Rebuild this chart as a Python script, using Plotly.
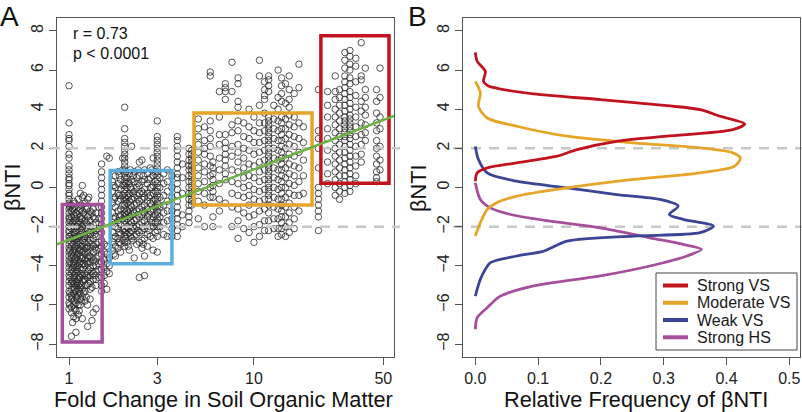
import plotly.graph_objects as go

# ---------------- Panel A data (fold change in SOM vs betaNTI) ----------------
# each column: one fold-change value with the betaNTI values observed there
hs_fold = [1.00, 1.03, 1.06, 1.09, 1.12, 1.15, 1.18, 1.22, 1.26, 1.30, 1.35, 1.40, 1.45, 1.50, 1.55, 1.60, 1.65,
           1.01, 1.045, 1.075, 1.105, 1.135, 1.165, 1.20, 1.24, 1.28, 1.33, 1.38]
hs_beta = [
    [5.2, 3.3, 2.7, 2.5, 2.4, 2.1, 1.7, 1.5, 1.1, 0.9, 0.7, 0.5, 0.4, 0.2, 0.1, -0.1, -0.3, -0.4, -0.6, -0.8, -0.9,
     -1.1, -1.3, -1.5, -1.6, -1.8, -2.0, -2.2, -2.3, -2.5, -2.7, -2.9, -3.1, -3.3, -3.5, -3.7, -3.9, -4.1, -4.3,
     -4.5, -4.8, -5.0, -5.3, -5.6, -5.9, -6.2],
    [-0.9, -1.2, -1.5, -1.9, -2.1, -2.4, -2.8, -3.0, -3.4, -3.6, -3.9, -4.2, -4.4, -4.7, -4.9, -5.2, -5.5, -5.7, -6.1, -6.4, -7.6],
    [-0.7, -1.0, -1.4, -1.7, -2.0, -2.3, -2.6, -2.9, -3.2, -3.5, -3.8, -4.0, -4.3, -4.6, -4.9, -5.1, -5.4, -5.8, -6.0, -6.6],
    [-1.3, -1.6, -1.8, -2.2, -2.5, -2.7, -3.0, -3.3, -3.6, -3.9, -4.1, -4.4, -4.8, -5.0, -5.3, -5.6, -5.9, -6.3, -6.7, -7.4],
    [-0.6, -1.0, -1.9, -2.3, -2.6, -2.9, -3.1, -3.4, -3.7, -4.0, -4.3, -4.5, -4.7, -5.0, -5.2, -5.5, -6.0, -6.5],
    [-0.3, -1.1, -1.5, -1.8, -2.1, -2.4, -2.8, -3.2, -3.5, -3.8, -4.1, -4.6, -4.9, -5.1, -5.4, -5.7, -6.0],
    [0.1, -0.5, -1.2, -1.6, -2.0, -2.3, -2.7, -3.0, -3.3, -3.6, -3.9, -4.2, -4.5, -4.8, -5.2, -5.6, -6.7],
    [-0.8, -1.4, -1.7, -2.1, -2.5, -2.8, -3.1, -3.4, -3.7, -4.0, -4.4, -4.7, -5.0, -5.3, -5.8],
    [-0.6, -1.0, -1.5, -1.9, -2.2, -2.6, -3.0, -3.3, -3.6, -3.9, -4.3, -4.6, -5.0, -6.0, -7.1],
    [-1.2, -1.7, -2.0, -2.4, -2.7, -3.1, -3.5, -3.8, -4.1, -4.5, -4.8, -5.2, -5.7],
    [-1.1, -1.5, -1.9, -2.3, -2.6, -3.0, -3.3, -3.7, -4.0, -4.4, -4.7, -6.4],
    [-1.3, -1.8, -2.2, -2.5, -2.9, -3.2, -3.6, -4.0, -4.3, -4.7, -5.0, -6.2],
    [-1.0, -1.6, -2.1, -2.8, -3.1, -3.5, -3.9, -4.2, -4.6],
    [1.2, 0.8, 0.5, 0.2, -0.1, -0.4, -0.7, -1.0, -1.3, -1.6, -1.9, -2.3, -2.7, -3.0, -3.4, -3.8, -4.2, -4.6, -5.0, -5.3],
    [-2.9, -3.3, -3.7, -4.1, -4.5, -4.9],
    [1.6, -3.0, -3.4, -3.9, -4.3, -5.2],
    [1.5, -3.6, -4.0, -4.4],
    [-1.0, -1.7, -2.5, -3.2, -3.8, -4.6, -5.4, -6.0],
    [-1.1, -1.8, -2.6, -3.3, -4.1, -4.8, -5.6, -6.9],
    [-0.8, -1.5, -2.4, -3.1, -3.7, -4.5, -5.2, -6.2],
    [-1.4, -2.0, -2.8, -3.5, -4.2, -4.9, -5.7],
    [-1.2, -1.7, -2.5, -3.2, -3.9, -4.6, -5.3, -6.3],
    [-0.9, -1.6, -2.2, -3.0, -3.6, -4.4, -5.0, -5.8],
    [-0.4, -1.3, -1.9, -2.6, -3.2, -3.9, -4.7, -5.4],
    [-1.1, -1.8, -2.4, -3.1, -3.8, -4.5, -5.6],
    [-0.5, -1.4, -2.1, -2.8, -3.5, -4.2, -4.9],
    [-1.3, -2.2, -2.9, -3.6, -4.3, -5.1, -6.8],
    [-1.6, -2.4, -3.1, -3.8, -4.5],
]

weak_fold = [1.72, 1.78, 1.84, 1.90, 1.95, 2.00, 2.06, 2.12, 2.18, 2.25, 2.32, 2.40, 2.48, 2.56, 2.65, 2.75,
             2.85, 2.93, 3.00, 3.10, 3.25, 3.40, 3.60, 3.85, 4.10, 4.45,
             1.75, 1.87, 2.03, 2.09, 2.15, 2.22, 2.36, 2.52, 2.70, 2.80]
weak_beta = [
    [0.3, -0.2, -0.8, -1.3, -1.8, -2.3, -2.8, -3.2],
    [0.6, 0.0, -0.5, -1.0, -1.5, -2.0, -2.5, -3.0, -3.5],
    [0.8, 0.2, -0.3, -0.7, -1.2, -1.7, -2.1, -2.6, -3.1],
    [0.4, -0.1, -0.6, -1.1, -1.4, -1.9, -2.4, -2.9, -3.3],
    [1.5, 0.9, 0.1, -0.4, -0.9, -1.6, -2.2, -2.7],
    [4.1, 3.0, 2.5, 2.3, 2.1, 1.9, 1.7, 1.5, 1.3, 1.1, 0.9, 0.7, 0.5, 0.3, 0.1, -0.1, -0.3, -0.5, -0.7, -0.9,
     -1.1, -1.3, -1.5, -1.7, -1.9, -2.1, -2.3, -2.5, -2.8, -3.0],
    [0.5, 0.0, -0.4, -0.8, -1.2, -1.6, -2.0, -2.4, -2.8],
    [0.7, 0.2, -0.3, -0.7, -1.1, -1.5, -1.9, -2.3, -3.2],
    [2.1, 0.4, -0.1, -0.6, -1.0, -1.4, -1.8, -2.2, -2.6],
    [0.8, 0.3, -0.2, -0.5, -0.9, -1.3, -1.7, -2.1, -2.5, -3.6],
    [0.5, 0.0, -0.4, -0.8, -1.2, -1.6, -2.0, -2.4, -2.9],
    [1.3, 0.6, 0.1, -0.3, -0.7, -1.1, -1.5, -1.9, -2.3, -2.8, -4.6],
    [1.4, 0.3, -0.2, -0.6, -1.0, -1.4, -1.8, -2.2, -2.7, -3.1],
    [0.9, 0.4, -0.1, -0.5, -0.9, -1.3, -1.7, -2.1, -2.6, -3.5, -4.5],
    [0.7, 0.2, -0.3, -0.7, -1.1, -1.5, -1.9, -2.4, -3.0],
    [1.0, 0.5, 0.0, -0.4, -0.8, -1.2, -1.6, -2.0, -2.5],
    [1.5, 0.6, 0.1, -0.3, -0.7, -1.1, -1.5, -2.0, -2.6, -3.2],
    [0.8, 0.3, -0.2, -0.6, -1.0, -1.4, -1.8, -2.3],
    [3.4, 2.6, 2.4, 2.2, 2.0, 1.8, 1.6, 1.4, 1.2, 1.0, 0.8, 0.6, 0.4, 0.2, 0.0, -0.2, -0.4, -0.6, -0.8, -1.0,
     -1.2, -1.4, -1.6, -1.8, -2.0, -2.2, -2.5, -3.3],
    [0.5, 0.0, -0.5, -1.0, -1.5, -2.0],
    [0.7, 0.2, -0.4, -0.9, -1.3, -1.8, -2.4],
    [0.9, 0.3, -0.2, -0.7, -1.2, -1.7, -2.5],
    [0.6, 0.0, -0.5, -1.2, -1.6, -2.1, -2.5],
    [2.6, 2.4, 2.1, 1.9, 1.6, 1.3, 1.0, 0.7, 0.5, 0.2, -0.1, -0.4, -0.7, -1.0, -1.3, -1.6, -1.9, -2.2, -2.5],
    [1.2, 0.5, -0.3, -1.4, -2.0],
    [2.0, 1.7, 1.4, 1.1, 0.9, 0.6, 0.3, 0.0, -0.3, -0.6, -0.9, -1.2, -1.5, -1.8],
    [0.1, -0.6, -1.6, -2.6, -3.4],
    [0.6, -0.4, -1.5, -2.3, -2.8],
    [0.8, 0.2, -0.6, -1.4, -2.2, -2.6],
    [0.3, -0.5, -1.3, -2.1, -3.0],
    [0.9, 0.0, -0.9, -1.7, -2.5],
    [0.6, -0.3, -1.2, -2.0, -2.7],
    [0.9, 0.2, -0.6, -1.4, -2.2],
    [0.6, -0.3, -1.2, -2.0, -2.9],
    [0.4, -0.5, -1.4, -2.2],
    [0.9, 0.0, -0.9, -1.8],
]

moderate_fold = [4.60, 5.00, 5.40, 5.80, 6.00, 6.50, 7.00, 7.60, 8.20, 8.80, 9.40, 10.0, 10.7, 11.4, 12.0,
                 12.8, 13.5, 14.1, 14.8, 15.5, 16.5, 17.5, 18.5, 22.3]
moderate_beta = [
    [1.9, 1.7, 1.5, 1.3, 1.1, 0.9, 0.7, 0.5, 0.3, 0.1, -0.1, -0.3, -0.5, -0.7, -0.9],
    [3.5, 3.0, 2.6, 2.2, 1.8, 1.4, 1.0, 0.6, 0.2, -0.2, -0.7, -1.6],
    [3.1, 2.4, 2.0, 1.7, 1.2, 0.8, 0.3, -0.3, -0.9, -2.0],
    [5.9, 5.7, 3.4, 2.9, 2.5, 2.1, 1.6, 1.1, 0.6, 0.0, -0.5],
    [1.3, 1.0, 0.7, 0.4, 0.1, -0.2, -0.5, -1.5, -2.0],
    [4.9, 3.6, 2.7, 2.2, 1.5, 0.9, 0.2, -0.6, -1.2],
    [5.3, 5.1, 4.9, 4.5, 2.7, 2.3, 2.0, 1.7, 1.4, 1.1, 0.7, 0.4, -0.8],
    [6.4, 4.9, 3.2, 2.8, 2.1, 1.6, 0.9, 0.3, -0.3, -1.0, -2.0],
    [5.6, 5.3, 4.4, 4.1, 3.4, 2.9, 2.2, 1.8, 1.3, 0.8, 0.2, -0.4, -1.1, -1.7, -2.6],
    [3.3, 2.6, 2.0, 1.5, 1.0, 0.5, 0.0, -0.5, -1.3, -2.1],
    [4.0, 3.1, 2.5, 1.9, 1.2, 0.6, 0.1, -0.4, -0.9, -1.5, -2.3],
    [3.6, 2.9, 2.3, 1.7, 1.1, 0.5, -0.1, -0.6, -1.4, -2.0, -2.8],
    [6.5, 5.7, 4.2, 3.3, 2.8, 2.3, 1.8, 1.3, 0.8, 0.3, -0.2, -0.7, -1.2, -1.9, -2.5],
    [5.4, 5.0, 4.7, 4.5, 3.8, 3.3, 2.9, 2.4, 1.9, 1.4, 0.9, 0.4, -0.1, -0.6, -1.1, -1.7, -2.2],
    [5.7, 5.5, 5.2, 4.9, 3.6, 3.4, 3.2, 3.0, 2.8, 2.6, 2.4, 2.2, 2.0, 1.8, 1.6, 1.4, 1.2, 1.0, 0.8, 0.6, 0.4,
     0.2, 0.0, -0.2, -0.4, -0.6, -0.9, -1.3, -1.7, -2.2],
    [4.2, 3.5, 3.0, 2.5, 2.0, 1.5, 1.0, 0.5, 0.0, -0.5, -1.0, -1.6, -2.1],
    [6.0, 4.6, 4.0, 3.4, 2.9, 2.4, 1.9, 1.4, 0.9, 0.4, -0.1, -0.6, -1.1, -1.6, -2.1, -2.5],
    [5.6, 5.2, 4.8, 4.4, 3.6, 3.3, 3.0, 2.7, 2.4, 2.1, 1.8, 1.5, 1.2, 0.9, 0.6, 0.3, 0.0, -0.3, -0.6, -0.9,
     -1.2, -1.5, -1.8, -2.1, -2.4],
    [5.3, 4.3, 3.5, 3.0, 2.5, 2.0, 1.5, 1.0, 0.5, 0.0, -0.5, -1.0, -1.5, -2.0, -2.5],
    [5.7, 5.0, 4.5, 4.1, 3.7, 3.2, 2.7, 2.2, 1.7, 1.2, 0.7, 0.2, -0.3, -0.8, -1.3, -1.8, -2.3],
    [4.8, 3.6, 3.1, 2.6, 2.1, 1.6, 1.1, 0.6, 0.1, -0.4, -1.0, -1.6, -2.1],
    [6.3, 5.1, 3.3, 2.5, 1.8, 1.0, 0.3, -0.4, -1.2],
    [3.1, 2.3, 1.4, 0.6, -0.3],
    [5.0, 2.9, 2.5, 2.0, 1.0, 0.0, -0.3, -0.6, -0.9, -1.2, -1.5, -2.2],
]

strong_fold = [25.0, 27.5, 29.0, 31.0, 33.0, 35.5, 38.0, 40.0, 46.0, 48.0]
strong_beta = [
    [4.9, 4.2, 3.6, 3.0, 2.5, 1.9, 1.3, 0.7, 0.2],
    [5.7, 4.9, 4.5, 4.0, 3.6, 3.2, 2.8, 2.4, 2.0, 1.6, 1.2, 0.8, 0.4, 0.0, -0.4],
    [5.0, 4.6, 4.2, 3.8, 3.4, 3.0, 2.6, 2.2, 1.8, 1.4, 1.0, 0.6, 0.2, -0.2, -0.6],
    [6.9, 6.5, 6.1, 5.7, 5.4, 5.1, 4.8, 4.5, 4.2, 3.9, 3.6, 3.4, 3.2, 3.0, 2.8, 2.6, 2.4, 2.1, 1.8, 1.5, 1.2,
     0.9, 0.6, 0.3, 0.0, -0.3],
    [7.0, 6.7, 6.3, 6.0, 5.6, 5.3, 4.9, 4.6, 4.3, 4.0, 3.7, 3.5, 3.3, 3.1, 2.9, 2.7, 2.5, 2.2, 1.9, 1.6, 1.3,
     1.0, 0.7, 0.4, 0.1, -0.2],
    [6.6, 6.2, 5.4, 4.7, 4.1, 3.6, 3.1, 2.6, 2.1, 1.6, 1.1, 0.6, 0.2],
    [7.4, 5.7, 5.5, 4.4, 3.9, 3.3, 2.7, 2.2, 1.7, 1.3],
    [6.1, 5.0, 4.6, 4.1, 3.7, 3.2, 2.8, 2.4],
    [5.0, 4.4, 3.8, 3.3, 2.9, 2.4, 2.0, 1.6, 1.2, 0.8, 0.5, 0.3],
    [6.1, 4.6, 3.6, 3.0, 2.1, 1.4, 0.9],
]

# regression (abline) parameters: betaNTI = intercept + slope * log10(fold)
fit_intercept = -2.67
fit_slope = 3.6
fit_r_text = "r = 0.73"
fit_p_text = "p < 0.0001"

# selection boxes: [fold_lo, fold_hi, beta_lo, beta_hi]
box_strong_hs = [0.92, 1.51, -7.9, -0.87]
box_weak_vs = [1.67, 3.6, -3.9, 0.87]
box_moderate_vs = [4.74, 20.6, -0.9, 3.8]
box_strong_vs = [23.0, 53.7, 0.22, 7.75]

x_ticks_a = [1, 3, 10, 50]
y_ticks = [-8, -6, -4, -2, 0, 2, 4, 6, 8]
threshold_levels = [2, -2]

# ---------------- Panel B data (relative frequency curves) ----------------
strong_vs_freq = [0.0, 0.003, 0.016, 0.013, 0.02, 0.035, 0.093, 0.199, 0.305, 0.358, 0.39, 0.429, 0.41, 0.305,
                  0.225, 0.162, 0.13, 0.066, 0.019, 0.003, 0.0]
strong_vs_beta = [6.9, 6.45, 5.93, 5.42, 5.2, 5.07, 4.78, 4.49, 4.18, 3.98, 3.64, 3.25, 2.96, 2.62,
                  2.36, 1.94, 1.6, 1.26, 1.0, 0.75, 0.32]
moderate_vs_freq = [0.0, 0.008, 0.005, 0.019, 0.066, 0.146, 0.252, 0.358, 0.41, 0.422, 0.413, 0.358, 0.252,
                    0.146, 0.066, 0.034, 0.019, 0.008, 0.0]
moderate_vs_beta = [5.42, 4.83, 4.15, 3.55, 3.13, 2.62, 2.28, 2.02, 1.77, 1.51, 1.09, 0.75, 0.41,
                    -0.02, -0.44, -0.78, -1.12, -1.8, -2.48]
weak_vs_freq = [0.0, 0.005, 0.019, 0.066, 0.146, 0.225, 0.294, 0.323, 0.309, 0.331, 0.379, 0.358, 0.252,
                0.146, 0.109, 0.066, 0.024, 0.016, 0.008, 0.0]
weak_vs_beta = [2.1, 1.43, 0.75, 0.32, -0.02, -0.36, -0.61, -0.95, -1.38, -1.63, -1.97, -2.31, -2.48,
                -2.74, -3.25, -3.5, -3.84, -4.18, -4.69, -5.55]
strong_hs_freq = [0.0, 0.008, 0.024, 0.056, 0.119, 0.199, 0.278, 0.331, 0.36, 0.337, 0.278, 0.199, 0.093,
                  0.04, 0.019, 0.003, 0.0]
strong_hs_beta = [0.24, -0.61, -1.04, -1.38, -1.72, -2.06, -2.57, -2.91, -3.16, -3.5, -4.01, -4.52, -5.03,
                  -5.55, -6.14, -6.65, -7.24]
x_ticks_b = [0.0, 0.1, 0.2, 0.3, 0.4, 0.5]

group_names = ["Strong VS", "Moderate VS", "Weak VS", "Strong HS"]

# ---------------- styling ----------------
C_RED = "#C1121F"
C_ORANGE = "#E6A428"
C_BLUE = "#3C4496"
C_PURPLE = "#A64F9D"
C_LIGHTBLUE = "#5BAEDD"
C_GREEN = "#6DB33F"
C_AXIS = "#555555"
C_DASH = "#C8C8C8"
FONT = "Liberation Sans, Arial, Helvetica, sans-serif"
TITLE_SIZE = 21.7

W, H = 802, 412


def px_x(p):
    return p / W


def px_y(p):
    return 1 - p / H


fig = go.Figure()

# scatter points
all_fold, all_beta = [], []
for folds, betas in [(hs_fold, hs_beta), (weak_fold, weak_beta), (moderate_fold, moderate_beta),
                     (strong_fold, strong_beta)]:
    for f, ys in zip(folds, betas):
        all_fold.extend([f] * len(ys))
        all_beta.extend(ys)

fig.add_trace(go.Scatter(
    x=all_fold, y=all_beta, mode="markers", xaxis="x", yaxis="y", showlegend=False,
    marker=dict(symbol="circle-open", size=6.5, color="#2a2a2a", line=dict(width=0.8)),
    hoverinfo="skip"))

# density curves
curves = [
    (strong_hs_freq, strong_hs_beta, C_PURPLE, group_names[3]),
    (weak_vs_freq, weak_vs_beta, C_BLUE, group_names[2]),
    (moderate_vs_freq, moderate_vs_beta, C_ORANGE, group_names[1]),
    (strong_vs_freq, strong_vs_beta, C_RED, group_names[0]),
]
for fx, fy, col, name in curves:
    fig.add_trace(go.Scatter(
        x=fx, y=fy, mode="lines", xaxis="x2", yaxis="y2", name=name, showlegend=False,
        line=dict(color=col, width=2.8, shape="spline", smoothing=0.8)))

shapes = []
# dashed thresholds (extend slightly past plot boxes, as in the reference)
for lv in threshold_levels:
    shapes.append(dict(type="line", xref="paper", yref="y", x0=px_x(50), x1=px_x(400), y0=lv, y1=lv,
                       line=dict(color=C_DASH, width=2.5, dash="10px,8px"), layer="above"))
    shapes.append(dict(type="line", xref="paper", yref="y2", x0=px_x(453), x1=1.0, y0=lv, y1=lv,
                       line=dict(color=C_DASH, width=2.5, dash="10px,8px"), layer="below"))

# boxes
for b, col in [(box_strong_hs, C_PURPLE), (box_weak_vs, C_LIGHTBLUE), (box_moderate_vs, C_ORANGE),
               (box_strong_vs, C_RED)]:
    shapes.append(dict(type="rect", xref="x", yref="y", x0=b[0], x1=b[1], y0=b[2], y1=b[3],
                       line=dict(color=col, width=3.5), fillcolor="rgba(0,0,0,0)", layer="above"))

# regression line across the full panel width
xr_a = [-0.065, 1.757]
x_lo, x_hi = 10 ** xr_a[0], 10 ** xr_a[1]
shapes.append(dict(type="line", xref="x", yref="y", x0=x_lo, x1=x_hi,
                   y0=fit_intercept + fit_slope * xr_a[0], y1=fit_intercept + fit_slope * xr_a[1],
                   line=dict(color=C_GREEN, width=2.5), layer="above"))

# manual legend box for panel B
leg_left, leg_right, leg_top, leg_bottom = 656, 797, 273, 350
shapes.append(dict(type="rect", xref="paper", yref="paper", x0=px_x(leg_left), x1=px_x(leg_right),
                   y0=px_y(leg_bottom), y1=px_y(leg_top), line=dict(color="#444444", width=1),
                   fillcolor="white", layer="above"))
legend_rows = [285.5, 302.8, 320.0, 337.3]
legend_cols = [C_RED, C_ORANGE, C_BLUE, C_PURPLE]

annotations = []
for ry, col, name in zip(legend_rows, legend_cols, group_names):
    shapes.append(dict(type="line", xref="paper", yref="paper", x0=px_x(663), x1=px_x(688),
                       y0=px_y(ry), y1=px_y(ry), line=dict(color=col, width=4), layer="above"))
    annotations.append(dict(xref="paper", yref="paper", x=px_x(695), y=px_y(ry), text=name, showarrow=False,
                            xanchor="left", yanchor="middle", font=dict(size=16, color="#1a1a1a")))

# panel letters
annotations.append(dict(xref="paper", yref="paper", x=px_x(9), y=px_y(17), text="A", showarrow=False,
                        xanchor="center", yanchor="middle", font=dict(size=28, color="#111")))
annotations.append(dict(xref="paper", yref="paper", x=px_x(418), y=px_y(17), text="B", showarrow=False,
                        xanchor="center", yanchor="middle", font=dict(size=28, color="#111")))
# correlation text
annotations.append(dict(xref="paper", yref="paper", x=px_x(71), y=px_y(34), text=fit_r_text, showarrow=False,
                        xanchor="left", yanchor="middle", font=dict(size=16, color="#111")))
annotations.append(dict(xref="paper", yref="paper", x=px_x(71), y=px_y(53), text=fit_p_text, showarrow=False,
                        xanchor="left", yanchor="middle", font=dict(size=16, color="#111")))
# axis titles
annotations.append(dict(xref="paper", yref="paper", x=px_x(224), y=px_y(399),
                        text="Fold Change in Soil Organic Matter", showarrow=False,
                        xanchor="center", yanchor="middle", font=dict(size=TITLE_SIZE, color="#111")))
annotations.append(dict(xref="paper", yref="paper", x=px_x(636), y=px_y(399),
                        text="Relative Frequency of βNTI", showarrow=False,
                        xanchor="center", yanchor="middle", font=dict(size=TITLE_SIZE, color="#111")))
annotations.append(dict(xref="paper", yref="paper", x=px_x(12), y=px_y(188), text="βNTI", showarrow=False,
                        textangle=-90, xanchor="center", yanchor="middle",
                        font=dict(size=TITLE_SIZE, color="#111")))
annotations.append(dict(xref="paper", yref="paper", x=px_x(418), y=px_y(188), text="βNTI", showarrow=False,
                        textangle=-90, xanchor="center", yanchor="middle",
                        font=dict(size=TITLE_SIZE, color="#111")))

axis_common = dict(showgrid=False, zeroline=False, showline=True, mirror=True, linecolor=C_AXIS, linewidth=1,
                   ticks="outside", ticklen=7, tickwidth=1, tickcolor=C_AXIS,
                   tickfont=dict(size=16, color="#222"))
y_dom = [px_y(357), px_y(18)]

fig.update_layout(
    width=W, height=H, margin=dict(l=0, r=0, t=0, b=0),
    paper_bgcolor="white", plot_bgcolor="white",
    font=dict(family=FONT, color="#111"),
    showlegend=False,
    xaxis=dict(axis_common, type="log", range=xr_a, domain=[px_x(57), px_x(394)], anchor="y",
               tickvals=x_ticks_a, ticktext=[str(v) for v in x_ticks_a]),
    yaxis=dict(axis_common, range=[-8.66, 8.66], domain=y_dom, anchor="x", tickvals=y_ticks, tickangle=-90),
    xaxis2=dict(axis_common, range=[-0.0196, 0.517], domain=[px_x(463), px_x(800)], anchor="y2",
                tickvals=x_ticks_b, tickformat=".1f"),
    yaxis2=dict(axis_common, range=[-8.66, 8.66], domain=y_dom, anchor="x2", tickvals=y_ticks, tickangle=-90),
    shapes=shapes, annotations=annotations,
)

fig.write_html("out.html", config={"displayModeBar": False},
               post_script="document.body.style.margin='0';document.body.style.overflow='hidden';")
